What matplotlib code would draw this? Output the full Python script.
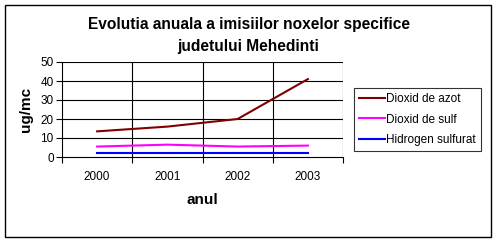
import matplotlib
matplotlib.use("Agg")
import matplotlib.pyplot as plt
from matplotlib.patches import Rectangle
from matplotlib.ticker import FixedLocator

years = ["2000", "2001", "2002", "2003"]
azot = [13.5, 16, 20, 41]
sulf = [5.5, 6.5, 5.5, 6]
hidrogen = [2, 2, 2, 2]
series_names = ["Dioxid de azot", "Dioxid de sulf", "Hidrogen sulfurat"]
colors = ["#800000", "#FF00FF", "#0000FF"]
yticks = [0, 10, 20, 30, 40, 50]

plt.rcParams['font.family'] = ['Liberation Sans', 'DejaVu Sans']

W, H = 497, 243
fig = plt.figure(figsize=(W / 100, H / 100), dpi=100)
fig.patch.set_facecolor("white")

# outer frame
fig.patches.append(Rectangle((5 / W, 1 - 237 / H), (491 - 5) / W, (237 - 5) / H,
                             transform=fig.transFigure, fill=False,
                             edgecolor="black", linewidth=1.0))

ax = fig.add_axes([62 / W, 1 - 157 / H, (343 - 62) / W, (157 - 62) / H])
x = list(range(len(years)))
for vals, name, c in zip([azot, sulf, hidrogen], series_names, colors):
    ax.plot(x, vals, color=c, lw=1.5, label=name, zorder=3)

ax.set_xlim(-0.5, len(years) - 0.5)
ax.set_ylim(yticks[0], yticks[-1])

for yv in yticks[1:]:
    ax.axhline(yv, color="black", lw=0.8, zorder=1)
for i in range(1, len(years) + 1):
    ax.axvline(i - 0.5, color="black", lw=0.8, zorder=1)

for s in ["top", "right"]:
    ax.spines[s].set_visible(False)
for s in ["left", "bottom"]:
    ax.spines[s].set_linewidth(0.8)

ax.set_xticks(x)
ax.set_xticklabels(years, fontsize=8.5)
ax.tick_params(axis="x", which="major", length=0, pad=10)
ax.xaxis.set_minor_locator(FixedLocator([i - 0.5 for i in range(len(years) + 1)]))
ax.tick_params(axis="x", which="minor", length=4, width=0.8, direction="out")
ax.set_yticks(yticks)
ax.tick_params(axis="y", length=4, width=0.8, direction="out", labelsize=8.5, pad=2)

ax.set_xlabel("anul", fontsize=11, fontweight="bold", labelpad=7)
ax.set_ylabel("ug/mc", fontsize=11, fontweight="bold", labelpad=5)

fig.text(0.5, 1 - 35.5 / H,
         "Evolutia anuala a imisiilor noxelor specifice\njudetului Mehedinti",
         ha="center", va="center", fontsize=11.2, fontweight="bold", linespacing=1.6)

leg = ax.legend(loc="center left", bbox_to_anchor=(354 / W, 1 - 119.5 / H),
                bbox_transform=fig.transFigure, fontsize=8.5, frameon=True,
                fancybox=False, edgecolor="black", borderaxespad=0,
                handlelength=2.2, handletextpad=0.1, labelspacing=0.7,
                borderpad=0.45)
leg.get_frame().set_linewidth(0.8)

fig.savefig("out.png", dpi=100)
